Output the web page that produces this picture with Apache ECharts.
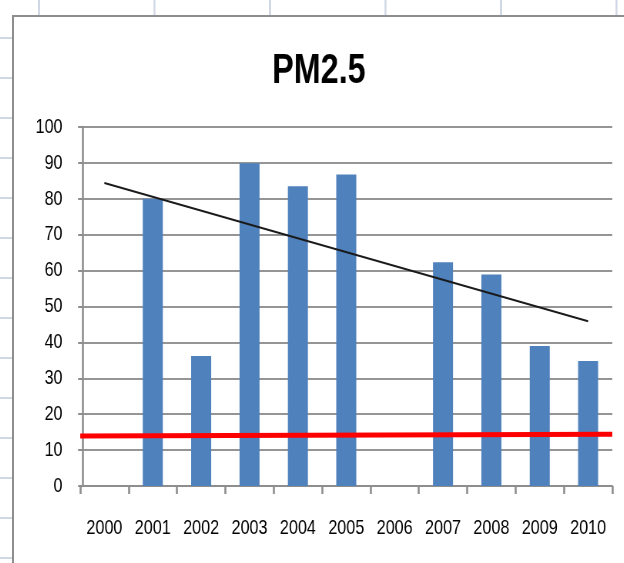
<!DOCTYPE html>
<html>
<head>
<meta charset="utf-8">
<script src="https://cdn.jsdelivr.net/npm/echarts@6/dist/echarts.min.js"></script>
<style>
  html, body { margin: 0; padding: 0; width: 624px; height: 563px; overflow: hidden; }
  body {
    background-color: #ffffff;
    background-image:
      linear-gradient(to right, #d0d7e5 2px, transparent 2px),
      linear-gradient(to bottom, #d0d7e5 2px, transparent 2px);
    background-size: 115.5px 100%, 100% 40px;
    background-position: 38px 0, 0 37px;
    position: relative;
  }
  #frame {
    position: absolute; left: 12px; top: 15px;
    width: 612px; height: 548px;
    box-sizing: border-box;
    border-left: 2px solid #8e8e8e; border-top: 2px solid #8e8e8e;
    background: #ffffff;
    overflow: hidden;
  }
  #chart {
    position: absolute; left: 0; top: 0;
    width: 792px; height: 546px;
    transform: scaleX(0.77);
    transform-origin: 0 0;
  }
</style>
</head>
<body>
<div id="frame"><div id="chart"></div></div>
<script>
// Data
const categories = ['2000', '2001', '2002', '2003', '2004', '2005', '2006', '2007', '2008', '2009', '2010'];
const pm25Values = [null, 80, 36.2, 89.9, 83.5, 86.8, null, 62.3, 58.9, 39.0, 34.8];
const trendCategories = ['2000', '2010'];
const trendValues = [84.4, 45.9];
const limitPositions = [-0.06, 11];
const limitValues = [13.9, 14.4];
const yMin = 0, yMax = 100, yStep = 10;

const font = "'Liberation Sans', Arial, sans-serif";
const chart = echarts.init(document.getElementById('chart'), null, { renderer: 'canvas' });

chart.setOption({
  animation: false,
  backgroundColor: '#ffffff',
  title: {
    text: 'PM2.5',
    left: 'center',
    top: 28,
    textStyle: { fontFamily: font, fontWeight: 'bold', fontSize: 42, color: '#000000' }
  },
  grid: { left: 86, right: 15, top: 110, bottom: 77, containLabel: false },
  xAxis: [
    {
      type: 'category',
      data: categories,
      boundaryGap: true,
      axisLine: { lineStyle: { color: '#8e8e8e', width: 2 } },
      axisTick: { show: true, length: 8, inside: false, lineStyle: { color: '#8e8e8e', width: 2.6 } },
      axisLabel: { interval: 0, margin: 32, fontFamily: font, fontSize: 21, color: '#000000' },
      splitLine: { show: false }
    },
    {
      type: 'value', min: -0.06, max: 11, show: false
    }
  ],
  yAxis: {
    type: 'value',
    min: yMin, max: yMax, interval: yStep,
    axisLine: { show: true, lineStyle: { color: '#8e8e8e', width: 2.6 } },
    axisTick: { show: true, length: 6.5, inside: false, lineStyle: { color: '#8e8e8e', width: 2 } },
    axisLabel: { margin: 23, fontFamily: font, fontSize: 21, color: '#000000' },
    splitLine: { show: true, lineStyle: { color: '#959595', width: 2 } }
  },
  series: [
    {
      name: 'PM2.5',
      type: 'bar',
      data: pm25Values,
      barWidth: 26,
      itemStyle: { color: '#4f81bd' },
      z: 2
    },
    {
      name: 'trend',
      type: 'line',
      data: trendCategories.map((c, i) => [c, trendValues[i]]),
      symbol: 'none',
      lineStyle: { color: '#1a1a1a', width: 2 },
      z: 4
    },
    {
      name: 'limit',
      type: 'line',
      xAxisIndex: 1,
      data: limitPositions.map((x, i) => [x, limitValues[i]]),
      symbol: 'none',
      lineStyle: { color: '#ff0000', width: 5 },
      z: 5
    }
  ]
});
</script>
</body>
</html>
